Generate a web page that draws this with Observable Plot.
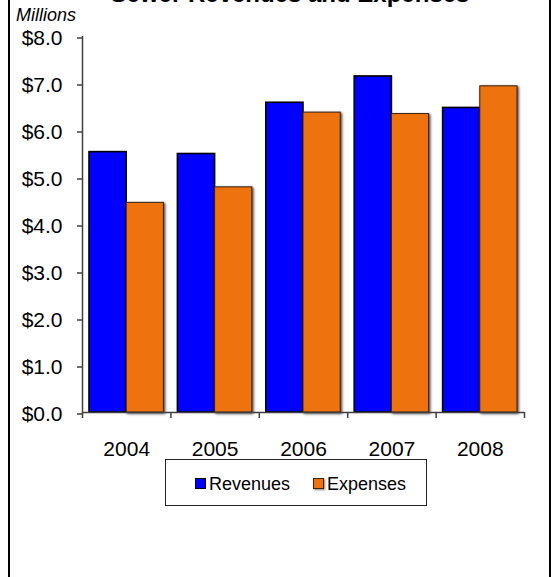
<!DOCTYPE html>
<html>
<head>
<meta charset="utf-8">
<script src="https://cdn.jsdelivr.net/npm/d3@7"></script>
<script src="https://cdn.jsdelivr.net/npm/@observablehq/plot@0.6"></script>
<style>
  html, body { margin: 0; padding: 0; background: #fff; width: 553px; height: 577px; overflow: hidden; }
  body { position: relative; font-family: "Liberation Sans", Arial, sans-serif; }
  #frame { position: absolute; left: 8px; top: -40px; width: 543px; height: 700px; border: 2px solid #000; box-sizing: border-box; }
  #title { position: absolute; left: 0; width: 580px; top: -21px; text-align: center; font-weight: bold; font-size: 24px; line-height: 30px; white-space: nowrap; }
  #unit { position: absolute; left: 16px; top: 4px; font-style: italic; font-size: 18px; line-height: 22px; }
  #chart { position: absolute; left: 0; top: 0; }
  #legend { position: absolute; left: 165px; top: 459px; width: 262px; height: 47px; border: 1.5px solid #222; box-sizing: border-box; font-size: 18px; }
  .item { position: absolute; top: 13px; line-height: 22px; white-space: nowrap; }
  .sw { display: inline-block; width: 9px; height: 9px; border: 1px solid #000; vertical-align: 1px; margin-right: 3px; }
  .sw.exp { border-color: #3a2410; box-shadow: 1px 1px 2px rgba(0,0,0,0.5); }
  .exp-bars rect { filter: drop-shadow(1.5px 1.5px 1.2px rgba(0,0,0,0.45)); }
</style>
</head>
<body>
<div id="frame"></div>
<div id="title">Sewer Revenues and Expenses</div>
<div id="unit">Millions</div>
<div id="chart"></div>
<div id="legend"></div>
<script>
const years = [2004, 2005, 2006, 2007, 2008];
const revenues = [5.54, 5.50, 6.59, 7.15, 6.48];
const expenses = [4.46, 4.79, 6.38, 6.35, 6.94];
const series = ["Revenues", "Expenses"];
const colors = ["#0000FF", "#EE730E"];
const yTicks = [0, 1, 2, 3, 4, 5, 6, 7, 8];

const revRows = years.map((year, i) => ({year, series: series[0], value: revenues[i]}));
const expRows = years.map((year, i) => ({year, series: series[1], value: expenses[i]}));
const bounds = [years[0] - 0.5, ...years.map(y => y + 0.5)];

const plot = Plot.plot({
  width: 553,
  height: 470,
  marginLeft: 82,
  marginRight: 29,
  marginTop: 36,
  marginBottom: 58,
  style: {fontFamily: "'Liberation Sans', Arial, sans-serif", background: "transparent", overflow: "visible"},
  x: {domain: [bounds[0], bounds[bounds.length - 1]]},
  y: {domain: [0, 8]},
  marks: [
    Plot.rectY(revRows, {x1: d => d.year - 0.5, x2: d => d.year, y: "value", fill: colors[0], stroke: "#000", strokeWidth: 1.6, insetLeft: 7}),
    Plot.rectY(expRows, {x1: d => d.year, x2: d => d.year + 0.5, y: "value", fill: colors[1], stroke: "#3a2410", strokeWidth: 1, insetRight: 7, className: "exp-bars", imageFilter: "drop-shadow(1.5px 1.5px 1.2px rgba(0,0,0,0.45))"}),
    Plot.axisY({ticks: yTicks, tickFormat: d => "$" + d.toFixed(1), tickSize: 5, tickPadding: 15, fontSize: 21, dy: 1.5, stroke: "#404040", strokeWidth: 1.5, color: "#000", label: null}),
    Plot.axisX({ticks: bounds, tickFormat: () => "", tickSize: 6, stroke: "#404040", strokeWidth: 1.5, label: null}),
    Plot.axisX({ticks: years, tickFormat: d => String(d), tickSize: 0, tickPadding: 29, fontSize: 21, color: "#000", label: null}),
    Plot.ruleX([bounds[0]], {y1: 0, y2: 8, stroke: "#404040", strokeWidth: 1.5}),
    Plot.ruleY([0], {stroke: "#404040", strokeWidth: 1.5})
  ]
});
document.getElementById("chart").appendChild(plot);

const legend = document.getElementById("legend");
const lefts = [29, 147];
series.forEach((s, i) => {
  const item = document.createElement("div");
  item.className = "item";
  item.style.left = lefts[i] + "px";
  const sw = document.createElement("span");
  sw.className = "sw" + (i === 1 ? " exp" : "");
  sw.style.background = colors[i];
  item.appendChild(sw);
  item.appendChild(document.createTextNode(s));
  legend.appendChild(item);
});
</script>
</body>
</html>
